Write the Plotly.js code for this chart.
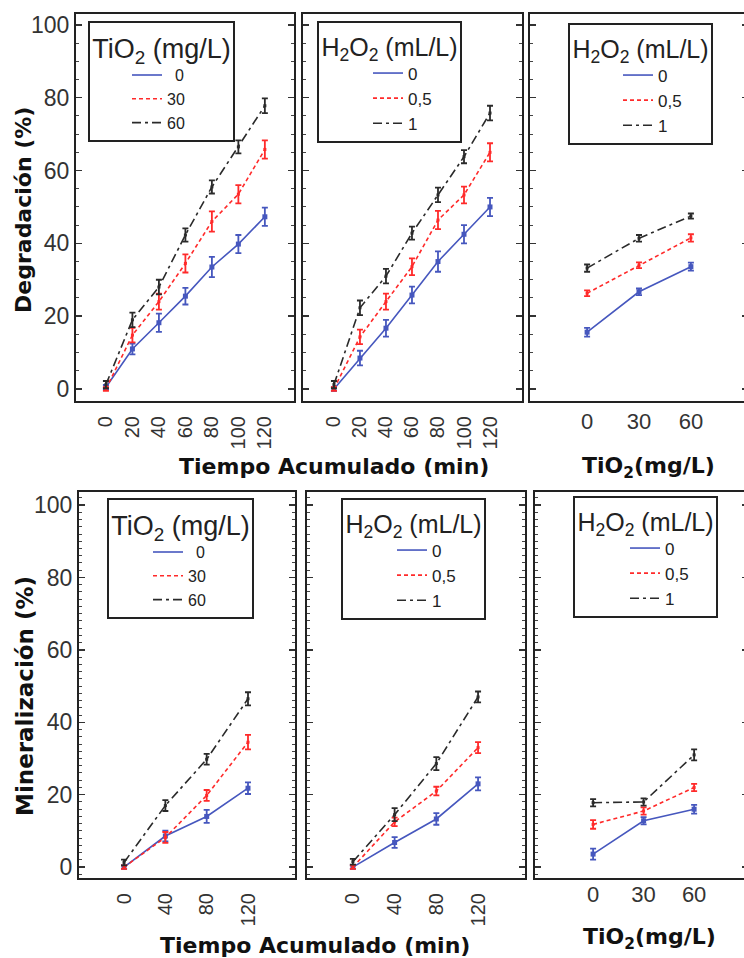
<!DOCTYPE html>
<html>
<head>
<meta charset="utf-8">
<script src="https://cdn.plot.ly/plotly-3.0.1.min.js"></script>
<style>
html,body{margin:0;padding:0;overflow:hidden;background:#fff;}
#chart{width:748px;height:958px;}
</style>
</head>
<body>
<div id="chart"></div>
<script>
// ---- categories / x values ----
var tiempo7 = [0, 20, 40, 60, 80, 100, 120];
var tiempo4 = [0, 40, 80, 120];
var tio2 = [0, 30, 60];
var tickTiempo7 = ['0', '20', '40', '60', '80', '100', '120'];
var tickTiempo4 = ['0', '40', '80', '120'];
var tickTio2 = ['0', '30', '60'];
var yTicks = [0, 20, 40, 60, 80, 100];
var yTickText = ['0', '20', '40', '60', '80', '100'];

var legendTiO2 = ['\u20020', '30', '60'];
var legendH2O2 = ['0', '0,5', '1'];

// ---- Degradación vs tiempo, por TiO2 ----
var degT_Ti0  = [0.5, 11.0, 18.2, 25.5, 33.5, 39.8, 47.3];
var degT_Ti30 = [0.0, 14.8, 24.0, 34.5, 46.0, 53.5, 65.8];
var degT_Ti60 = [1.2, 19.0, 28.0, 42.3, 55.5, 66.5, 77.8];
var degT_Ti0_err  = [0.6, 1.5, 2.5, 2.3, 2.8, 2.5, 2.5];
var degT_Ti30_err = [0.5, 2.0, 2.2, 2.5, 2.8, 2.5, 2.5];
var degT_Ti60_err = [1.0, 2.0, 2.0, 1.8, 1.8, 1.8, 2.0];

// ---- Degradación vs tiempo, por H2O2 ----
var degT_H0  = [0.0, 8.5, 16.7, 25.8, 35.0, 42.5, 50.0];
var degT_H05 = [0.0, 14.3, 24.0, 33.6, 46.4, 53.3, 65.0];
var degT_H1  = [1.2, 22.3, 31.0, 42.8, 53.3, 63.8, 75.8];
var degT_H0_err  = [0.5, 2.0, 2.3, 2.3, 2.8, 2.5, 2.5];
var degT_H05_err = [0.5, 2.0, 2.2, 2.3, 2.5, 2.3, 2.5];
var degT_H1_err  = [1.0, 2.0, 2.0, 1.8, 2.0, 1.8, 2.0];

// ---- Degradación vs TiO2, por H2O2 ----
var degTi_H0  = [15.6, 26.7, 33.6];
var degTi_H05 = [26.3, 34.0, 41.5];
var degTi_H1  = [33.2, 41.4, 47.5];
var degTi_H0_err  = [1.2, 0.9, 1.1];
var degTi_H05_err = [0.8, 0.8, 1.0];
var degTi_H1_err  = [1.0, 0.9, 0.7];

// ---- Mineralización vs tiempo, por TiO2 ----
var minT_Ti0  = [0.0, 8.6, 14.0, 21.8];
var minT_Ti30 = [0.0, 8.2, 19.8, 34.5];
var minT_Ti60 = [1.3, 17.0, 29.8, 46.5];
var minT_Ti0_err  = [0.5, 1.5, 1.8, 1.6];
var minT_Ti30_err = [0.5, 1.5, 1.5, 2.0];
var minT_Ti60_err = [0.8, 1.5, 1.5, 1.8];

// ---- Mineralización vs tiempo, por H2O2 ----
var minT_H0  = [0.0, 6.8, 13.3, 23.0];
var minT_H05 = [0.0, 12.5, 21.0, 33.0];
var minT_H1  = [1.5, 14.5, 28.6, 47.0];
var minT_H0_err  = [0.5, 1.5, 1.6, 1.8];
var minT_H05_err = [0.5, 1.2, 1.2, 1.5];
var minT_H1_err  = [0.8, 1.8, 1.8, 1.5];

// ---- Mineralización vs TiO2, por H2O2 ----
var minTi_H0  = [3.6, 12.8, 16.0];
var minTi_H05 = [11.8, 15.5, 22.0];
var minTi_H1  = [17.8, 18.0, 31.0];
var minTi_H0_err  = [1.5, 1.0, 1.2];
var minTi_H05_err = [1.2, 1.0, 1.0];
var minTi_H1_err  = [1.0, 1.0, 1.5];

// ---- styles ----
var BLUE = '#4657be', RED = '#ff2a2a', BLACK = '#2a2a2a';
var styles = [
  {color: BLUE, dash: 'solid', msize: 5},
  {color: RED, dash: '4px,3px', msize: 3},
  {color: BLACK, dash: '9px,4px,3px,4px', msize: 3}
];

// each series: a line trace (in the legend) + a marker/error-bar trace (not in the legend)
function series(x, y, err, idx, name, xa, ya, leg) {
  var s = styles[idx];
  return [{
    type: 'scatter', mode: 'lines', x: x, y: y, name: name,
    xaxis: xa, yaxis: ya, legend: leg,
    line: {color: s.color, width: 1.6, dash: s.dash}
  }, {
    type: 'scatter', mode: 'markers', x: x, y: y, name: name, showlegend: false,
    xaxis: xa, yaxis: ya,
    marker: {color: s.color, size: s.msize, symbol: 'square'},
    error_y: {type: 'data', array: err, visible: true, color: s.color, thickness: 1.8, width: 3}
  }];
}

var data = [].concat(
  series(tiempo7, degT_Ti0,  degT_Ti0_err,  0, legendTiO2[0], 'x', 'y', 'legend'),
  series(tiempo7, degT_Ti30, degT_Ti30_err, 1, legendTiO2[1], 'x', 'y', 'legend'),
  series(tiempo7, degT_Ti60, degT_Ti60_err, 2, legendTiO2[2], 'x', 'y', 'legend'),

  series(tiempo7, degT_H0,  degT_H0_err,  0, legendH2O2[0], 'x2', 'y2', 'legend2'),
  series(tiempo7, degT_H05, degT_H05_err, 1, legendH2O2[1], 'x2', 'y2', 'legend2'),
  series(tiempo7, degT_H1,  degT_H1_err,  2, legendH2O2[2], 'x2', 'y2', 'legend2'),

  series(tio2, degTi_H0,  degTi_H0_err,  0, legendH2O2[0], 'x3', 'y3', 'legend3'),
  series(tio2, degTi_H05, degTi_H05_err, 1, legendH2O2[1], 'x3', 'y3', 'legend3'),
  series(tio2, degTi_H1,  degTi_H1_err,  2, legendH2O2[2], 'x3', 'y3', 'legend3'),

  series(tiempo4, minT_Ti0,  minT_Ti0_err,  0, legendTiO2[0], 'x4', 'y4', 'legend4'),
  series(tiempo4, minT_Ti30, minT_Ti30_err, 1, legendTiO2[1], 'x4', 'y4', 'legend4'),
  series(tiempo4, minT_Ti60, minT_Ti60_err, 2, legendTiO2[2], 'x4', 'y4', 'legend4'),

  series(tiempo4, minT_H0,  minT_H0_err,  0, legendH2O2[0], 'x5', 'y5', 'legend5'),
  series(tiempo4, minT_H05, minT_H05_err, 1, legendH2O2[1], 'x5', 'y5', 'legend5'),
  series(tiempo4, minT_H1,  minT_H1_err,  2, legendH2O2[2], 'x5', 'y5', 'legend5'),

  series(tio2, minTi_H0,  minTi_H0_err,  0, legendH2O2[0], 'x6', 'y6', 'legend6'),
  series(tio2, minTi_H05, minTi_H05_err, 1, legendH2O2[1], 'x6', 'y6', 'legend6'),
  series(tio2, minTi_H1,  minTi_H1_err,  2, legendH2O2[2], 'x6', 'y6', 'legend6')
);

var W = 748, H = 958;
function px(v) { return v / W; }
function py(v) { return 1 - v / H; }

var TICKFONT = {family: 'Liberation Sans, Arial, sans-serif', size: 23, color: '#333'};
var XROTFONT = {family: 'Liberation Sans, Arial, sans-serif', size: 20, color: '#333'};
var XTIFONT = {family: 'Liberation Sans, Arial, sans-serif', size: 22, color: '#333'};

function xaxis(dom, range, vals, text, rot, font, anchor, standoff) {
  return {
    domain: dom, range: range, anchor: anchor, tickmode: 'array', tickvals: vals, ticktext: text,
    tickangle: rot, ticks: '', showline: true, mirror: true, linewidth: 2, linecolor: '#222',
    showgrid: false, zeroline: false, tickfont: font, fixedrange: true, automargin: false,
    ticklabelstandoff: standoff
  };
}
function yaxis(dom, range, labels, minorStep, anchor) {
  return {
    domain: dom, range: range, anchor: anchor, tickmode: 'array', tickvals: yTicks, ticktext: yTickText,
    showticklabels: labels, ticks: 'inside', ticklen: 6, tickwidth: 1.5, tickcolor: '#333',
    minor: {dtick: minorStep, ticks: 'inside', ticklen: 3, tickwidth: 1, tickcolor: '#444'},
    showline: true, mirror: 'ticks', linewidth: 2, linecolor: '#222',
    showgrid: false, zeroline: false, tickfont: TICKFONT, fixedrange: true, automargin: false
  };
}

var yTop = [py(401), py(14)];
var yBot = [py(878), py(492)];
var rTop = [-3.3, 103];
var rBot = [-3.0, 103.6];

function legend(x, y, title, titleSize, size, indent) {
  return {
    x: px(x), y: py(y), xref: 'paper', yref: 'paper', xanchor: 'left', yanchor: 'top',
    bgcolor: '#fff', bordercolor: '#222', borderwidth: 2,
    font: {family: 'Liberation Sans, Arial, sans-serif', size: size, color: '#222'},
    title: {text: title, side: 'top center', font: {family: 'Liberation Sans, Arial, sans-serif', size: titleSize, color: '#222'}},
    indentation: indent, tracegroupgap: 0, itemclick: false, itemdoubleclick: false
  };
}

var tiTitle = 'TiO<sub>2</sub> (mg/L)';
var hTitle = 'H<sub>2</sub>O<sub>2</sub> (mL/L)';

function boldFont(size) {
  return {family: 'DejaVu Sans, Verdana, sans-serif', size: size, color: '#111', weight: 'bold'};
}

function label(text, x, y, angle, size) {
  return {text: text, x: px(x), y: py(y), xref: 'paper', yref: 'paper', xanchor: 'center', yanchor: 'middle',
          textangle: angle, showarrow: false, font: boldFont(size)};
}

var layout = {
  width: W, height: H, margin: {l: 0, r: 0, t: 0, b: 0},
  paper_bgcolor: '#fff', plot_bgcolor: '#fff', showlegend: true,
  xaxis:  xaxis([px(76), px(294)], [-22.6, 142], tiempo7, tickTiempo7, -90, XROTFONT, 'y', 5),
  xaxis2: xaxis([px(303), px(522)], [-23.8, 144.6], tiempo7, tickTiempo7, -90, XROTFONT, 'y2', 5),
  xaxis3: xaxis([px(530), px(748)], [-33, 93], tio2, tickTio2, 0, XTIFONT, 'y3', 0),
  xaxis4: xaxis([px(79), px(295)], [-43.6, 165.5], tiempo4, tickTiempo4, -90, XROTFONT, 'y4', 5),
  xaxis5: xaxis([px(307), px(525)], [-44, 165], tiempo4, tickTiempo4, -90, XROTFONT, 'y5', 5),
  xaxis6: xaxis([px(535), px(748)], [-34.5, 92], tio2, tickTio2, 0, XTIFONT, 'y6', -4),
  yaxis:  yaxis(yTop, rTop, true, 5, 'x'),
  yaxis2: yaxis(yTop, rTop, false, 5, 'x2'),
  yaxis3: yaxis(yTop, rTop, false, 5, 'x3'),
  yaxis4: yaxis(yBot, rBot, true, 2, 'x4'),
  yaxis5: yaxis(yBot, rBot, false, 2, 'x5'),
  yaxis6: yaxis(yBot, rBot, false, 2, 'x6'),
  legend:  legend(88, 21, tiTitle, 27, 16, 37),
  legend2: legend(317, 21, hTitle, 25, 17, 49),
  legend3: legend(568, 23, hTitle, 25, 17, 48),
  legend4: legend(107, 498, tiTitle, 27, 16, 39),
  legend5: legend(341, 498, hTitle, 25, 17, 49),
  legend6: legend(573, 496, hTitle, 25, 17, 50),
  annotations: [
    label('Degradación (%)', 23, 210, -90, 22),
    label('Mineralización (%)', 25, 696, -90, 23),
    label('Tiempo Acumulado (min)', 334, 466, 0, 22),
    label('Tiempo Acumulado (min)', 315, 945, 0, 22),
    label('TiO<sub>2</sub>(mg/L)', 648, 467, 0, 22),
    label('TiO<sub>2</sub>(mg/L)', 649, 938, 0, 22)
  ]
};

Plotly.newPlot('chart', data, layout, {staticPlot: true, displayModeBar: false});
</script>
</body>
</html>
